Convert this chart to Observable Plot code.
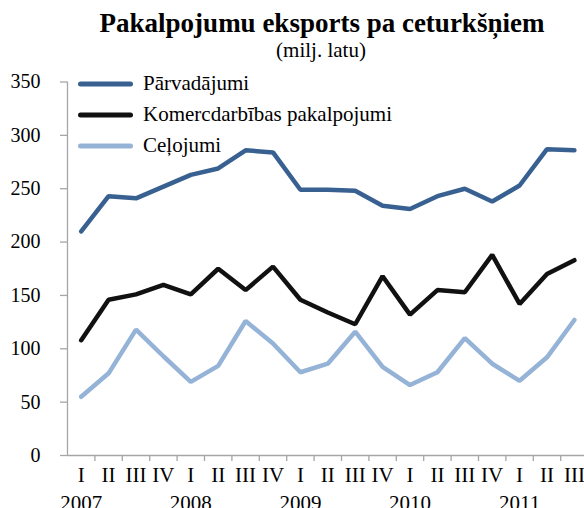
<!DOCTYPE html>
<html>
<head>
<meta charset="utf-8">
<script src="https://cdn.jsdelivr.net/npm/d3@7"></script>
<script src="https://cdn.jsdelivr.net/npm/@observablehq/plot@0.6"></script>
<style>
  html, body { margin: 0; padding: 0; background: #fff; }
  #wrap { position: relative; width: 584px; height: 508px; overflow: hidden; font-family: "Liberation Serif", serif; }
  #title { position: absolute; left: 0; width: 584px; top: 10px; line-height: 1; text-align: center; padding-left: 60px; box-sizing: border-box; font-weight: bold; font-size: 27px; color: #000; white-space: nowrap; }
  #subtitle { position: absolute; left: 0; width: 584px; top: 40px; line-height: 1; text-align: center; padding-left: 58px; box-sizing: border-box; font-size: 21px; color: #000; }
  #chart { position: absolute; left: 0; top: 0; }
  #legend { position: absolute; left: 78px; top: 68px; font-size: 21px; color: #000; }
  .row { height: 31px; display: flex; align-items: center; }
  .row svg { margin-right: 10px; }
</style>
</head>
<body>
<div id="wrap">
  <div id="chart"></div>
  <div id="title">Pakalpojumu eksports pa ceturkšņiem</div>
  <div id="subtitle">(milj. latu)</div>
  <div id="legend"></div>
</div>
<script>
const quarterLabels = ["I","II","III","IV","I","II","III","IV","I","II","III","IV","I","II","III","IV","I","II","III"];
const years = ["2007","2008","2009","2010","2011"];
const seriesNames = ["Pārvadājumi", "Komercdarbības pakalpojumi", "Ceļojumi"];
const seriesColors = ["#386191", "#111111", "#95b3d7"];
const parvadajumi = [210, 243, 241, 252, 263, 269, 286, 284, 249, 249, 248, 234, 231, 243, 250, 238, 253, 287, 286];
const komercdarbibas = [108, 146, 151, 160, 151, 175, 155, 177, 146, 134, 123, 168, 132, 155, 153, 188, 142, 170, 183];
const celojumi = [55, 77, 118, 93, 69, 84, 126, 105, 78, 86, 116, 83, 66, 78, 110, 86, 70, 92, 127];
const yTicks = [0, 50, 100, 150, 200, 250, 300, 350];

const allSeries = [parvadajumi, komercdarbibas, celojumi];
const data = [];
allSeries.forEach((vals, s) => vals.forEach((v, i) => data.push({series: seriesNames[s], i: i + 0.5, v})));

const n = quarterLabels.length;
const axisColor = "#a6a6a6";

const plot = Plot.plot({
  width: 584,
  height: 508,
  marginLeft: 67,
  marginRight: -3.6,
  marginTop: 81.5,
  marginBottom: 53,
  style: { fontFamily: "Liberation Serif, serif", fontSize: "21px", color: "#000", background: "transparent", overflow: "visible" },
  x: { domain: [0, n], axis: null },
  y: { domain: [0, 350], axis: null },
  color: { domain: seriesNames, range: seriesColors },
  marks: [
    Plot.ruleX([0], { stroke: axisColor, strokeWidth: 1.3 }),
    Plot.axisY({ ticks: yTicks, label: null, tickSize: 7, tickPadding: 20, stroke: axisColor, strokeWidth: 1.3, fill: "#000", fontSize: 20, tickFormat: d => String(d) }),
    Plot.ruleY([0], { x1: 0, x2: n, stroke: axisColor, strokeWidth: 1.3 }),
    Plot.axisX({ ticks: d3.range(1, n + 1), label: null, tickSize: 6, tickFormat: () => "", stroke: axisColor, strokeWidth: 1.3 }),
    Plot.axisX({ ticks: d3.range(n).map(i => i + 0.5), label: null, tickSize: 0, tickPadding: 12, tickFormat: d => quarterLabels[Math.floor(d)], fontSize: 21, fill: "#000" }),
    Plot.axisX({ ticks: years.map((y, k) => k * 4 + 0.5), label: null, tickSize: 0, tickPadding: 40, tickFormat: d => years[Math.floor(d / 4)], fontSize: 21, fill: "#000" }),
    Plot.line(data, { x: "i", y: "v", z: "series", stroke: "series", strokeWidth: 4.5, strokeLinejoin: "miter", strokeLinecap: "round" })
  ]
});
document.getElementById("chart").appendChild(plot);

const legend = document.getElementById("legend");
seriesNames.forEach((name, s) => {
  const row = document.createElement("div");
  row.className = "row";
  row.innerHTML = `<svg width="55" height="10"><line x1="2.5" y1="5" x2="52.5" y2="5" stroke="${seriesColors[s]}" stroke-width="5" stroke-linecap="round"/></svg><span>${name}</span>`;
  legend.appendChild(row);
});
</script>
</body>
</html>
